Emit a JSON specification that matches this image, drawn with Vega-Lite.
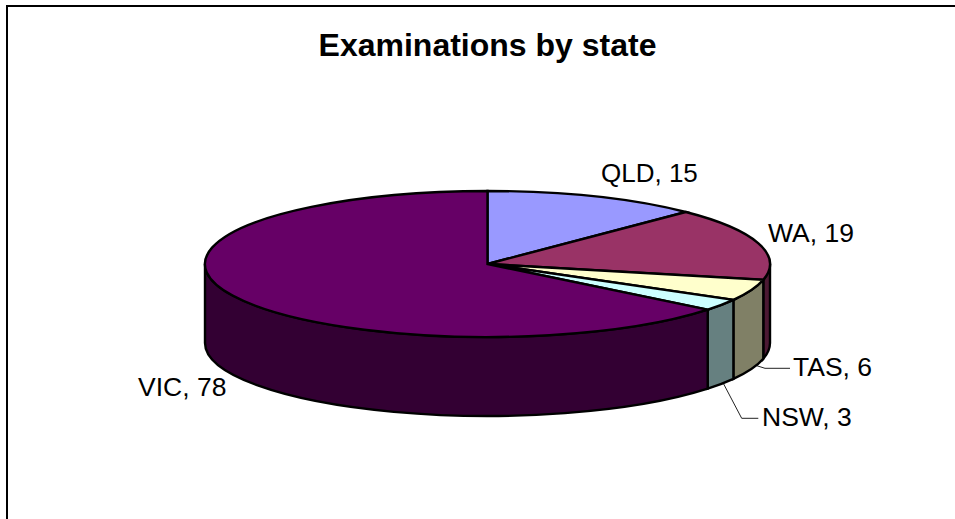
{"$schema":"https://vega.github.io/schema/vega-lite/v6.json","width":955,"height":519,"autosize":{"type":"none"},"padding":0,"background":"white","view":{"stroke":null},"title":{"text":"Examinations by state","font":"Liberation Sans","fontSize":32,"fontWeight":"bold","color":"black","anchor":"middle","dx":10,"offset":-88,"baseline":"alphabetic"},"config":{"font":"Liberation Sans"},"data":{"values":[{"state":"QLD","examinations":15},{"state":"WA","examinations":19},{"state":"TAS","examinations":6},{"state":"NSW","examinations":3},{"state":"VIC","examinations":78}]},"layer":[{"data":{"values":[{}]},"mark":{"type":"rule","stroke":"black","strokeWidth":2},"encoding":{"x":{"value":7},"y":{"value":5},"y2":{"value":519}}},{"data":{"values":[{}]},"mark":{"type":"rule","stroke":"black","strokeWidth":2},"encoding":{"x":{"value":6},"x2":{"value":955},"y":{"value":6}}},{"transform":[{"filter":"datum.state==='TAS'||datum.state==='NSW'"}],"mark":{"type":"point","filled":false,"size":4,"stroke":"#222222","strokeWidth":1,"opacity":1},"encoding":{"x":{"value":487.5},"y":{"value":264},"shape":{"field":"state","type":"nominal","legend":null,"scale":{"domain":["TAS","NSW"],"range":["M269.2,101.7L277.5,104.3L302.5,104.3","M235.8,119.3L254.2,154.3L270.8,154.3"]}}}},{"transform":[{"filter":"datum.state!=='QLD'"}],"mark":{"type":"point","filled":true,"size":4,"stroke":"black","strokeWidth":2.4,"opacity":1},"encoding":{"x":{"value":487.5},"y":{"value":264},"fill":{"field":"state","type":"nominal","legend":null,"scale":{"domain":["WA","TAS","NSW","VIC"],"range":["#4C1933","#808066","#668080","#330033"]}},"shape":{"field":"state","type":"nominal","legend":null,"scale":{"domain":["WA","TAS","NSW","VIC"],"range":["M282.5,0A282.5,73 0 0,1 275.8,15.8L275.8,94.8A282.5,73 0 0,0 282.5,79Z","M275.8,15.8A282.5,73 0 0,1 245.9,35.9L245.9,114.9A282.5,73 0 0,0 275.8,94.8Z","M245.9,35.9A282.5,73 0 0,1 220.2,45.7L220.2,124.7A282.5,73 0 0,0 245.9,114.9Z","M220.2,45.7A282.5,73 0 0,1 -282.5,0L-282.5,79A282.5,73 0 0,0 220.2,124.7Z"]}}}},{"mark":{"type":"point","filled":true,"size":4,"stroke":"black","strokeWidth":2.4,"opacity":1},"encoding":{"x":{"value":487.5},"y":{"value":264},"fill":{"field":"state","type":"nominal","legend":null,"scale":{"domain":["QLD","WA","TAS","NSW","VIC"],"range":["#9999FF","#993366","#FFFFCC","#CCFFFF","#660066"]}},"shape":{"field":"state","type":"nominal","legend":null,"scale":{"domain":["QLD","WA","TAS","NSW","VIC"],"range":["M0,0L0,-73A282.5,73 0 0,1 198.3,-52Z","M0,0L198.3,-52A282.5,73 0 0,1 275.8,15.8Z","M0,0L275.8,15.8A282.5,73 0 0,1 245.9,35.9Z","M0,0L245.9,35.9A282.5,73 0 0,1 220.2,45.7Z","M0,0L220.2,45.7A282.5,73 0 1,1 0,-73Z"]}}}},{"transform":[{"filter":"datum.state==='QLD'"},{"calculate":"datum.state+', '+datum.examinations","as":"label"}],"mark":{"type":"text","align":"left","baseline":"middle","fontSize":26,"font":"Liberation Sans","color":"black"},"encoding":{"x":{"value":601},"y":{"value":174},"text":{"field":"label"}}},{"transform":[{"filter":"datum.state==='WA'"},{"calculate":"datum.state+', '+datum.examinations","as":"label"}],"mark":{"type":"text","align":"left","baseline":"middle","fontSize":26.5,"font":"Liberation Sans","color":"black"},"encoding":{"x":{"value":768},"y":{"value":234},"text":{"field":"label"}}},{"transform":[{"filter":"datum.state==='TAS'"},{"calculate":"datum.state+', '+datum.examinations","as":"label"}],"mark":{"type":"text","align":"left","baseline":"middle","fontSize":26.5,"font":"Liberation Sans","color":"black"},"encoding":{"x":{"value":793},"y":{"value":368},"text":{"field":"label"}}},{"transform":[{"filter":"datum.state==='NSW'"},{"calculate":"datum.state+', '+datum.examinations","as":"label"}],"mark":{"type":"text","align":"left","baseline":"middle","fontSize":26.5,"font":"Liberation Sans","color":"black"},"encoding":{"x":{"value":762},"y":{"value":418},"text":{"field":"label"}}},{"transform":[{"filter":"datum.state==='VIC'"},{"calculate":"datum.state+', '+datum.examinations","as":"label"}],"mark":{"type":"text","align":"left","baseline":"middle","fontSize":26.5,"font":"Liberation Sans","color":"black"},"encoding":{"x":{"value":138},"y":{"value":388},"text":{"field":"label"}}}],"resolve":{"scale":{"fill":"independent","shape":"independent"}}}
